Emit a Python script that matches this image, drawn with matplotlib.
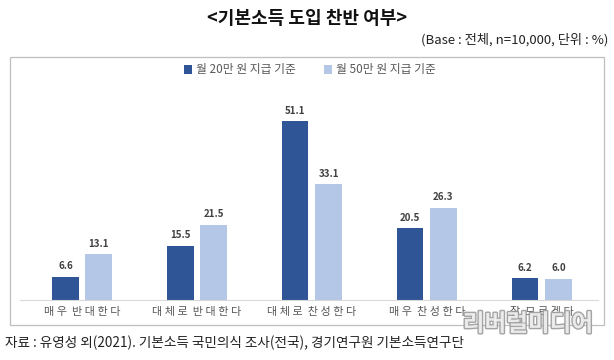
import matplotlib.pyplot as plt
import matplotlib.patheffects as pe
from matplotlib.patches import Rectangle
import numpy as np

plt.rcParams['font.family'] = ['Noto Sans CJK KR', 'DejaVu Sans']

categories = ['매우 반대한다', '대체로 반대한다', '대체로 찬성한다', '매우 찬성한다', '잘 모르겠다']
series_names = ['월 20만 원 지급 기준', '월 50만 원 지급 기준']
values_20 = [6.6, 15.5, 51.1, 20.5, 6.2]
values_50 = [13.1, 21.5, 33.1, 26.3, 6.0]

dark = '#2F5597'
light = '#B4C7E7'

fig = plt.figure(figsize=(6.14, 3.6), dpi=100)

# 차트 테두리 박스
fig.patches.append(Rectangle((10 / 614, 35 / 360), 594 / 614, 268 / 360,
                             transform=fig.transFigure, fill=False,
                             edgecolor='#BFBFBF', linewidth=0.9))

ax = fig.add_axes([20 / 614, 60 / 360, 578 / 614, 210 / 360])
x = np.arange(len(categories))
w = 0.23
off = 0.145
b1 = ax.bar(x - off, values_20, w, color=dark, label=series_names[0])
b2 = ax.bar(x + off, values_50, w, color=light, label=series_names[1])

for bars in (b1, b2):
    for rect in bars:
        ax.annotate(f'{rect.get_height():.1f}',
                    (rect.get_x() + rect.get_width() / 2, rect.get_height()),
                    xytext=(0, 4), textcoords='offset points',
                    ha='center', va='bottom', fontsize=7, fontweight='bold',
                    color='#404040')

# 글자 간격을 조금 넓혀서 표시
labels = ['  '.join(' '.join(word) for word in c.split()) for c in categories]

ax.set_xlim(-0.54, 4.49)
ax.set_ylim(0, 60)
ax.set_xticks(x)
ax.set_xticklabels(labels, fontsize=8, color='#595959')
ax.tick_params(axis='x', length=0, pad=5)
ax.set_yticks([])
for s in ['top', 'right', 'left']:
    ax.spines[s].set_visible(False)
ax.spines['bottom'].set_color('#D9D9D9')

leg = fig.legend(handles=[b1, b2], loc='center', bbox_to_anchor=(310 / 614, 1 - 70 / 360),
                 ncol=2, frameon=False, fontsize=8.5, handlelength=0.7, handleheight=0.7,
                 handletextpad=0.3, columnspacing=2.4)
for t in leg.get_texts():
    t.set_color('#595959')

fig.text(0.5, 1 - 18 / 360, '<기본소득 도입 찬반 여부>', ha='center', va='center',
         fontsize=13, fontweight='bold', color='#111111')
fig.text(608 / 614, 1 - 40 / 360, '(Base : 전체, n=10,000, 단위 : %)', ha='right',
         va='center', fontsize=9.5, color='#222222')
fig.text(5 / 614, 1 - 343 / 360,
         '자료 : 유영성 외(2021). 기본소득 국민의식 조사(전국), 경기연구원 기본소득연구단',
         ha='left', va='center', fontsize=9.8, color='#222222')

# 워터마크
fig.text(528 / 614, 1 - 324 / 360, '리버럴미디어', ha='center', va='center',
         fontsize=17, fontweight='bold', color='#F2F2F2', alpha=0.9,
         path_effects=[pe.withStroke(linewidth=2, foreground='#9A9A9A')])

fig.savefig('out.png', dpi=100)
